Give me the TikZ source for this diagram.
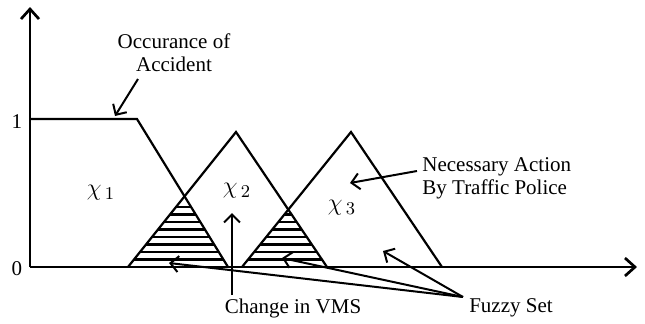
\documentclass[tikz,border=0pt]{standalone}
\usepackage{fontspec}
\setmainfont{Liberation Serif}
\usetikzlibrary{arrows.meta}
\usetikzlibrary{calc}
\usetikzlibrary{positioning}

\begin{document}
\begin{tikzpicture}[x=0.5pt,y=-0.5pt,
  axis/.style={line width=1.35pt,-{Straight Barb[length=5pt,width=9pt]}},
  curve/.style={line width=1.1pt,line join=miter},
  pointer/.style={line width=1pt,-{Straight Barb[length=4pt,width=8pt]}},
  lbl/.style={font=\fontsize{10.5}{11.5}\selectfont,inner sep=0pt,align=center},
  setname/.style={font=\fontsize{13}{14}\selectfont,inner sep=0pt},
  hatch/.style={line width=1.05pt}]
  \useasboundingbox (0,0) rectangle (645,323);
  % axes
  \coordinate (O) at (30,267);
  \coordinate (ytop) at (30,7);
  \coordinate (xend) at (637,267);
  \draw[axis] (O) -- (ytop);
  \draw[axis] (O) -- (xend);
  \node[lbl] (one) at (17,122) {1};
  \node[lbl] (zero) at (17,269) {0};
  % membership functions
  \coordinate (T1) at (30,119);
  \coordinate (T2) at (137,119);
  \coordinate (T3) at (228,267);
  \coordinate (A1) at (128,267);
  \coordinate (A2) at (236,132);
  \coordinate (A3) at (327,267);
  \coordinate (B1) at (242,267);
  \coordinate (B2) at (351,132);
  \coordinate (B3) at (442,267);
  \draw[curve] (T1) -- (T2) -- (T3);
  \draw[curve] (A1) -- (A2) -- (A3);
  \draw[curve] (B1) -- (B2) -- (B3);
  \coordinate (X1) at (intersection of T2--T3 and A1--A2);
  \coordinate (X2) at (intersection of A2--A3 and B1--B2);
  % hatched overlaps
  \begin{scope}
    \clip (A1) -- (X1) -- (T3) -- cycle;
    \foreach \k in {0,...,7}
      \draw[hatch] (100,{259.5-7.5*\k}) -- (260,{259.5-7.5*\k});
  \end{scope}
  \begin{scope}
    \clip (B1) -- (X2) -- (A3) -- cycle;
    \foreach \k in {0,...,7}
      \draw[hatch] (220,{259.5-7.5*\k}) -- (350,{259.5-7.5*\k});
  \end{scope}
  % set names
  \node[setname] (chi1) at (101,193) {$\chi_{\,1}$};
  \node[setname] (chi2) at (237,191) {$\chi_{\,2}$};
  \node[setname] (chi3) at (342,208) {$\chi_{\,3}$};
  % annotations
  \node[lbl] (occ) at (174,53) {Occurance of\\Accident};
  \node[lbl,align=left,anchor=west] (act) at (422,178) {Necessary Action\\By Traffic Police};
  \node[lbl] (vms) at (293,308) {Change in VMS};
  \node[lbl] (fuzzy) at (511,308) {Fuzzy Set};
  \coordinate (occfrom) at (138,79);
  \coordinate (occto) at (115,116);
  \coordinate (actfrom) at (417,171);
  \coordinate (actto) at (350,183);
  \coordinate (vmsfrom) at (232,295);
  \coordinate (vmsto) at (232,213);
  \coordinate (fzfrom) at (463,297);
  \coordinate (fz1) at (169,263);
  \coordinate (fz2) at (282,258);
  \coordinate (fz3) at (383,251);
  \draw[pointer] (occfrom) -- (occto);
  \draw[pointer] (actfrom) -- (actto);
  \draw[pointer] (vmsfrom) -- (vmsto);
  \draw[pointer] (fzfrom) -- (fz1);
  \draw[pointer] (fzfrom) -- (fz2);
  \draw[pointer] (fzfrom) -- (fz3);
\end{tikzpicture}
\end{document}
